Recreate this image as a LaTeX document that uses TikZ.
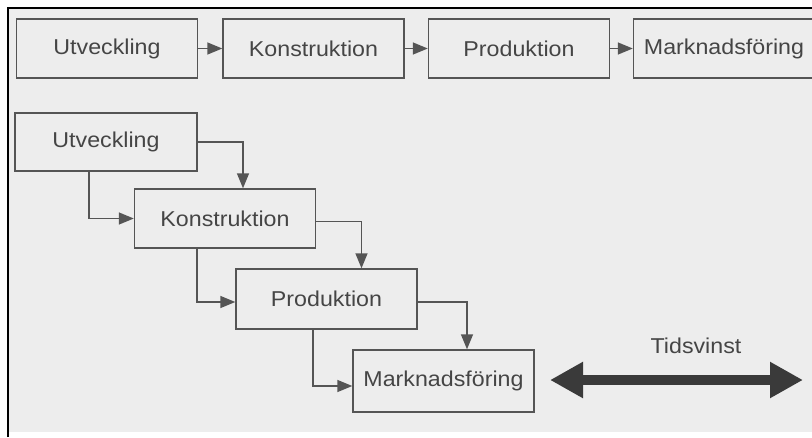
\documentclass[tikz,border=0pt]{standalone}
\usepackage{fontspec}
\setmainfont{Liberation Sans}[FakeStretch=1.08]
\usetikzlibrary{arrows.meta}
\definecolor{paper}{HTML}{EDEDED}
\definecolor{ink}{HTML}{555555}
\definecolor{txt}{HTML}{454545}
\definecolor{bar}{HTML}{3A3A3A}
\tikzset{
  phase/.style={draw=ink, line width=1.4pt, text=txt, minimum height=59pt,
    minimum width=181pt, inner sep=0pt, font=\fontsize{21.5}{24}\selectfont},
  flow/.style={draw=ink, line width=1.4pt,
    -{Triangle[length=15pt,width=12pt]}},
}
\begin{document}
\begin{tikzpicture}[x=1pt,y=-1pt]
\useasboundingbox (0,0) rectangle (812,437);
\fill[white] (0,0) rectangle (812,437);
\fill[paper] (8,8) rectangle (812,432);
\draw[black, line width=2pt] (8,437) -- (8,8) -- (812,8);

% sequential chain
\node[phase] (a1) at (107,48.5) {Utveckling};
\node[phase] (a2) at (313.5,48.5) {Konstruktion};
\node[phase] (a3) at (519,48.5) {Produktion};
\node[phase] (a4) at (724,48.5) {Marknadsföring};
\draw[flow] (a1) -- (a2);
\draw[flow] (a2) -- (a3);
\draw[flow] (a3) -- (a4);

% overlapping chain
\node[phase, minimum width=182pt, minimum height=58pt] (b1) at (106,142) {Utveckling};
\node[phase] (b2) at (225,218.5) {Konstruktion};
\node[phase, minimum height=60pt] (b3) at (326.5,299) {Produktion};
\node[phase, minimum height=62pt] (b4) at (443.5,381) {Marknadsföring};

\draw[flow] (b1.east) -| ([xshift=18pt]b2.north);
\draw[flow] ([xshift=-17pt]b1.south) |- (b2.west);
\draw[flow] ([yshift=-3pt]b2.east) -| ([xshift=35pt]b3.north);
\draw[flow] ([xshift=-28pt]b2.south) |- ([yshift=-3pt]b3.west);
\draw[flow] ([yshift=-3pt]b3.east) -| ([xshift=23.5pt]b4.north);
\draw[flow] ([xshift=-13.5pt]b3.south) |- ([yshift=-5pt]b4.west);

% time gained
\coordinate (gL) at (550,380);
\coordinate (gR) at (803,380);
\draw[bar, line width=10pt,
  {Triangle[length=33pt,width=34pt]}-{Triangle[length=33pt,width=34pt]}] (gL) -- (gR);
\node[text=txt, font=\fontsize{21.5}{24}\selectfont] (tv) at (696,346) {Tidsvinst};
\end{tikzpicture}
\end{document}
